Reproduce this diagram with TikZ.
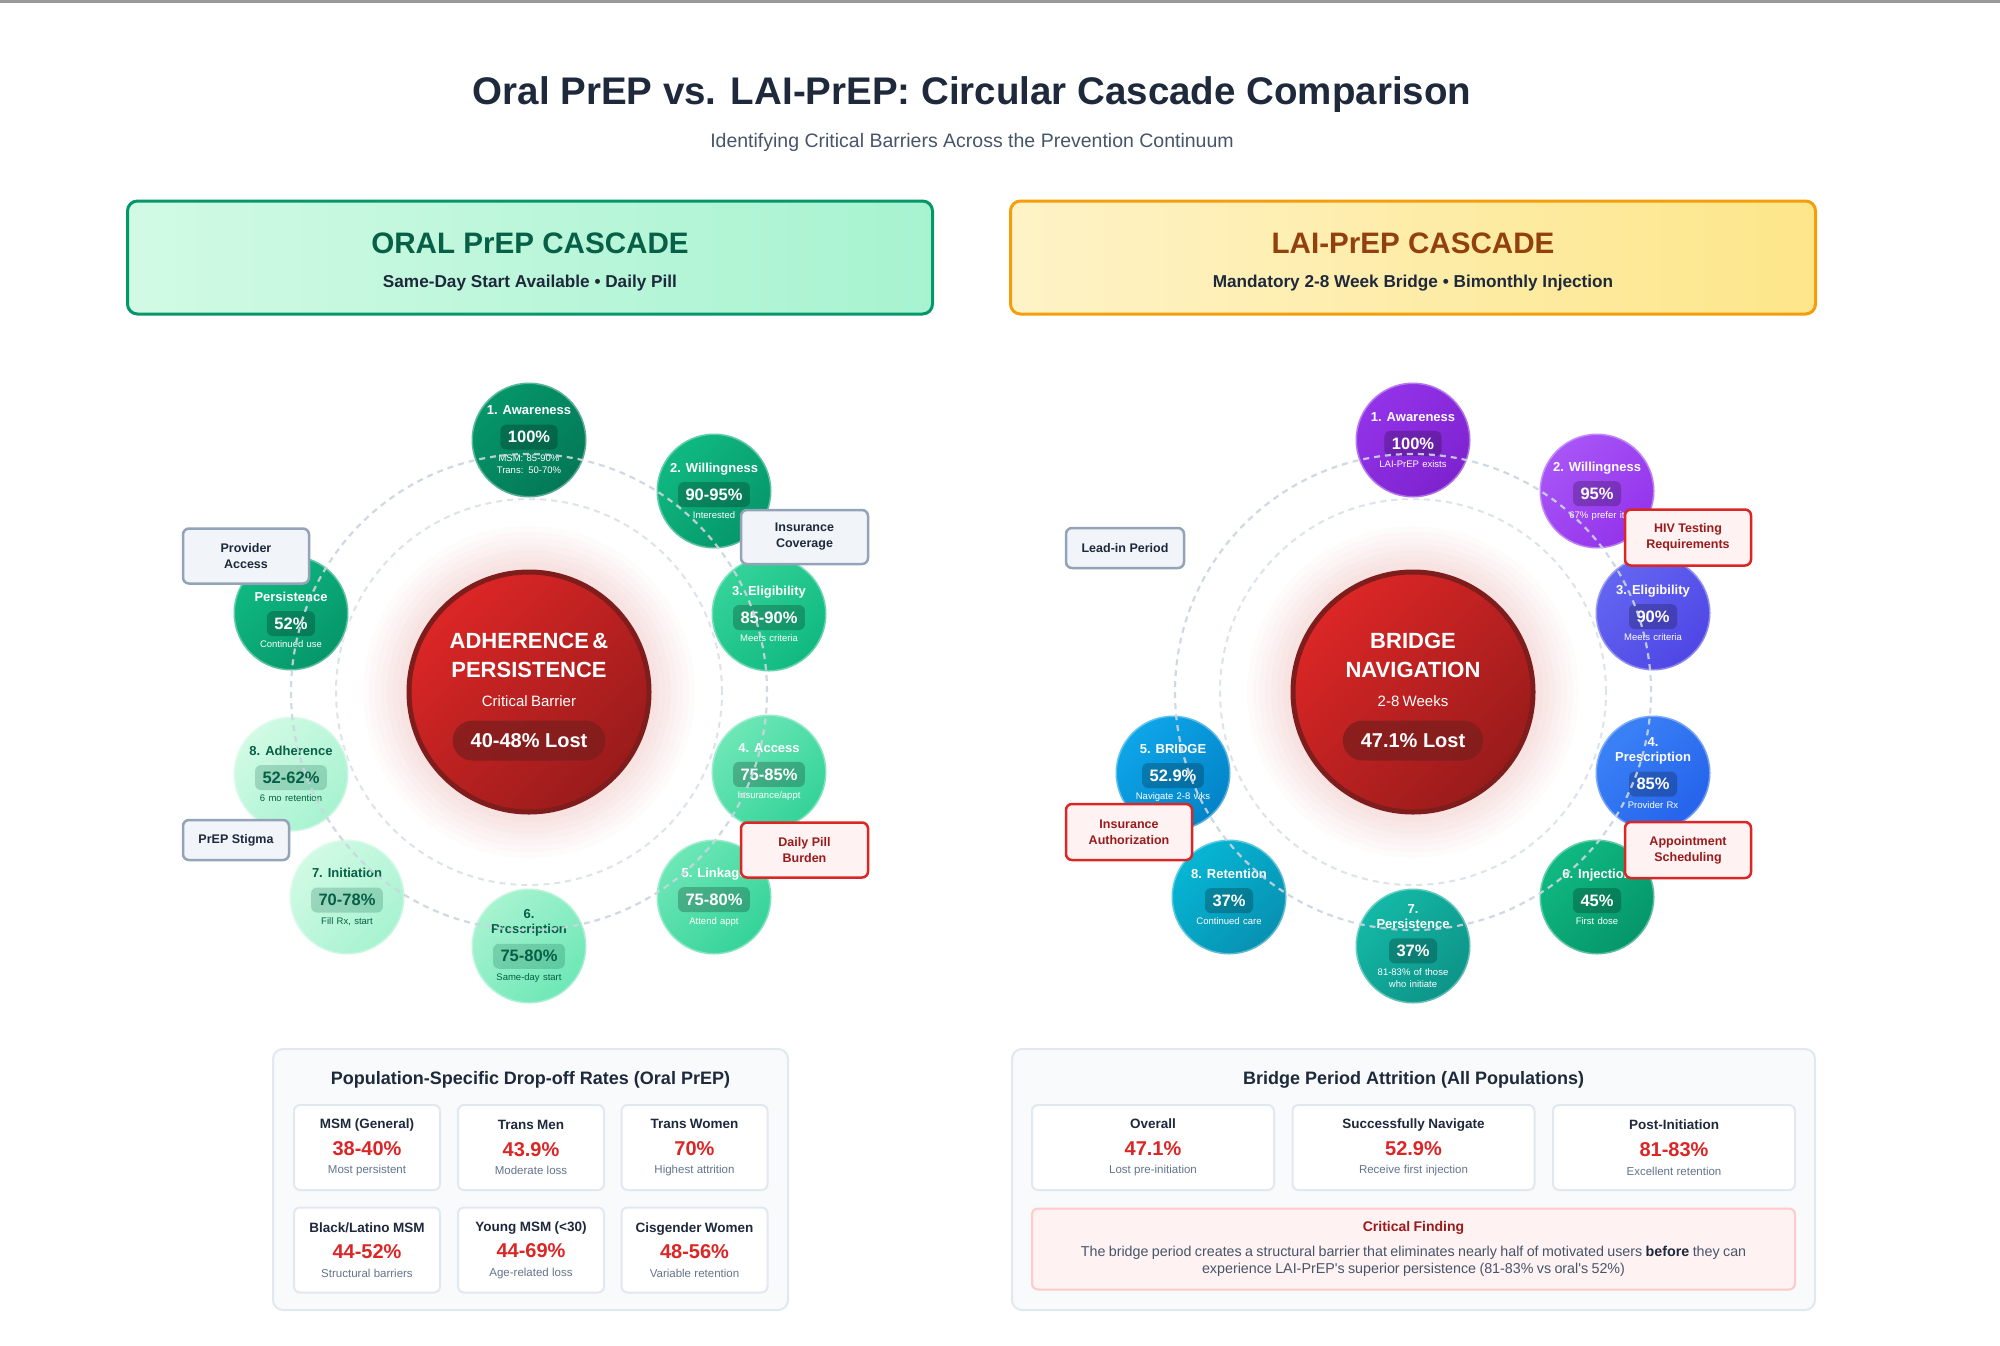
\documentclass[tikz,border=0pt]{standalone}
\usepackage{fontspec}
\setmainfont{Liberation Sans}
\usepackage{xcolor}
\usepackage{tikz}
\usetikzlibrary{positioning}
\definecolor{TitleInk}{HTML}{1E293B}
\definecolor{SubInk}{HTML}{475569}
\definecolor{MutedInk}{HTML}{64748B}
\definecolor{RingLine}{HTML}{CBD5E1}
\definecolor{RingSoft}{HTML}{DDE3EA}
\definecolor{CardLine}{HTML}{E2E8F0}
\definecolor{PanelFill}{HTML}{F8FAFC}
\definecolor{AlertRed}{HTML}{DC2626}
\definecolor{AlertDeep}{HTML}{991B1B}
\definecolor{AlertFill}{HTML}{FEF2F2}
\definecolor{AlertLine}{HTML}{FECACA}
\definecolor{NoteFill}{HTML}{F1F5F9}
\definecolor{NoteLine}{HTML}{94A3B8}
\definecolor{HubRim}{HTML}{7F1D1D}
\definecolor{HubRed}{HTML}{DC2626}
\definecolor{HubDeep}{HTML}{991B1B}
\definecolor{MintA}{HTML}{D1FAE5}
\definecolor{MintB}{HTML}{A7F3D0}
\definecolor{MintC}{HTML}{6EE7B7}
\definecolor{MintD}{HTML}{34D399}
\definecolor{MintE}{HTML}{10B981}
\definecolor{MintF}{HTML}{059669}
\definecolor{MintG}{HTML}{047857}
\definecolor{MintH}{HTML}{065F46}
\definecolor{AmberA}{HTML}{FEF3C7}
\definecolor{AmberB}{HTML}{FDE68A}
\definecolor{AmberLine}{HTML}{F59E0B}
\definecolor{AmberInk}{HTML}{92400E}
\definecolor{PurpleA}{HTML}{A855F7}
\definecolor{PurpleB}{HTML}{9333EA}
\definecolor{PurpleC}{HTML}{7E22CE}
\definecolor{IndigoA}{HTML}{6366F1}
\definecolor{IndigoB}{HTML}{4F46E5}
\definecolor{BlueA}{HTML}{3B82F6}
\definecolor{BlueB}{HTML}{2563EB}
\definecolor{SkyA}{HTML}{0EA5E9}
\definecolor{SkyB}{HTML}{0284C7}
\definecolor{CyanA}{HTML}{06B6D4}
\definecolor{CyanB}{HTML}{0891B2}
\definecolor{TealA}{HTML}{14B8A6}
\definecolor{TealB}{HTML}{0D9488}
\newcommand{\Px}[2]{\fontsize{#1}{#2}\selectfont}
\newcommand{\PctPill}[3]{%
  \tikz[baseline=(pct.base)]{\node[fill=#1,fill opacity=0.22,text opacity=1,text=#2,
    rounded corners=6pt,inner xsep=7.5pt,inner ysep=0pt,minimum height=25pt,
    font=\Px{16.5}{20}\bfseries] (pct) {#3};}%
}
\newcommand{\LossPill}[1]{%
  \tikz[baseline=(loss.base)]{\node[fill=HubRim,fill opacity=0.8,text opacity=1,text=white,
    rounded corners=20pt,inner xsep=18pt,inner ysep=0pt,minimum height=40pt,
    font=\Px{20}{24}\bfseries] (loss) {#1};}%
}
\newcommand{\StageText}[5]{%
  {\Px{13}{15.5}\bfseries #1\vphantom{g}\par}\nointerlineskip\vspace{7pt}%
  \PctPill{#2}{#3}{#4}\par\nointerlineskip\vspace{5pt}%
  {\Px{9.5}{12.5}\vphantom{A}#5\par}%
}
\newcommand{\HubText}[3]{%
  {\Px{22}{28.5}\bfseries #1\par}\nointerlineskip\vspace{18pt}%
  {\Px{15}{18}#2\par}\nointerlineskip\vspace{14pt}%
  \LossPill{#3}\par
}
\newcommand{\CardText}[3]{%
  {\Px{13.5}{16}\bfseries\color{TitleInk}#1\vphantom{g}\par}\nointerlineskip\vspace{10pt}%
  {\Px{20}{24}\bfseries\color{AlertRed}#2\vphantom{g}\par}\nointerlineskip\vspace{6pt}%
  {\Px{11.5}{14}\color{MutedInk}#3\par}%
}

\begin{document}
\begin{tikzpicture}[x=1pt,y=-1pt,
  banner/.style={rounded corners=10pt,line width=3pt,minimum width=805pt,minimum height=113pt},
  hub/.style={circle,minimum size=240pt,inner sep=0pt,draw=HubRim,line width=5pt,
              top color=HubRed,bottom color=HubDeep,shading angle=45},
  hubtext/.style={text width=210pt,align=center,inner sep=0pt,text=white},
  stage/.style={circle,minimum size=115pt,inner sep=0pt,draw=white,draw opacity=0.35,line width=3pt},
  tone/.style 2 args={top color=#1,bottom color=#2,shading angle=45},
  stagetext/.style={text width=104pt,align=center,inner sep=0pt,text=white},
  stagedark/.style={stagetext,text=MintH},
  ring/.style={draw=RingLine,draw opacity=0.9,line width=2.2pt,dash pattern=on 6pt off 5pt},
  softring/.style={draw=RingSoft,line width=2pt,dash pattern=on 6pt off 5pt},
  note/.style={draw=NoteLine,fill=NoteFill,line width=2.5pt,rounded corners=6pt,text=TitleInk,
               font=\Px{12.5}{16}\bfseries,align=center,inner sep=2pt},
  alert/.style={note,draw=AlertRed,fill=AlertFill,text=AlertDeep},
  panel/.style={draw=CardLine,fill=PanelFill,line width=2pt,rounded corners=10pt,minimum height=261pt},
  paneltitle/.style={font=\Px{18}{22}\bfseries,text=TitleInk},
  card/.style={draw=CardLine,fill=white,line width=2pt,rounded corners=6pt,minimum height=85pt,
               text width=136pt,align=center,inner xsep=5pt},
  widecard/.style={card,text width=232pt},
]
  \useasboundingbox (0,0) rectangle (2000,1345);
  \fill[white] (0,0) rectangle (2000,1345);
  \fill[black!40] (0,0) rectangle (2000,2.5);

  \node[font=\Px{38.5}{46}\bfseries,text=TitleInk] (title) at (972,95)
    {Oral PrEP vs. LAI-PrEP: Circular Cascade Comparison};
  \node[font=\Px{19.5}{23},text=SubInk] (subtitle) at (972,142)
    {Identifying Critical Barriers Across the Prevention Continuum};

  \node[banner,draw=MintF,left color=MintA,right color=MintB] (oralBanner) at (530,257.5) {};
  \node[font=\Px{29.6}{35}\bfseries,text=MintH] (oralHead) at (530,243.5) {ORAL PrEP CASCADE};
  \node[font=\Px{17.2}{21}\bfseries,text=TitleInk] (oralTag) at (530,283)
    {Same-Day Start Available • Daily Pill};
  \node[banner,draw=AmberLine,left color=AmberA,right color=AmberB] (laiBanner) at (1413,257.5) {};
  \node[font=\Px{29.6}{35}\bfseries,text=AmberInk] (laiHead) at (1413,243.5) {LAI-PrEP CASCADE};
  \node[font=\Px{17.2}{21}\bfseries,text=TitleInk] (laiTag) at (1413,283)
    {Mandatory 2-8 Week Bridge • Bimonthly Injection};

  % oral cascade
  \coordinate (oralCore) at (529,692);
  \foreach \r in {124,130,...,166}
    \fill[AlertRed,opacity=0.016] (oralCore) circle[radius=\r pt];
  \draw[softring] (oralCore) circle[radius=193pt];
  \node[hub] (oralHub) at (oralCore) {};
  \node[hubtext,yshift=-5pt] (oralHubText) at (oralHub)
    {\HubText{ADHERENCE \&\\PERSISTENCE}{Critical Barrier}{40-48\% Lost}};

  \node[stage,tone={MintF}{MintG}] (oral1) at (529,440) {};
  \node[stagetext] (oral1t) at (oral1)
    {\StageText{1. Awareness}{black}{white}{100\%}{MSM: 85-90\%\\Trans: 50-70\%}};
  \node[stage,tone={MintE}{MintF}] (oral2) at (714,491) {};
  \node[stagetext] (oral2t) at (oral2) {\StageText{2. Willingness}{black}{white}{90-95\%}{Interested}};
  \node[stage,tone={MintD}{MintE}] (oral3) at (769,614) {};
  \node[stagetext] (oral3t) at (oral3) {\StageText{3. Eligibility}{black}{white}{85-90\%}{Meets criteria}};
  \node[stage,tone={MintC}{MintD}] (oral4) at (769,772) {};
  \node[stagetext] (oral4t) at (oral4) {\StageText{4. Access}{black}{white}{75-85\%}{Insurance/appt}};
  \node[stage,tone={MintC}{MintD}] (oral5) at (714,897) {};
  \node[stagetext] (oral5t) at (oral5) {\StageText{5. Linkage}{black}{white}{75-80\%}{Attend appt}};
  \node[stage,tone={MintB}{MintC}] (oral6) at (529,946) {};
  \node[stagedark] (oral6t) at (oral6) {\StageText{6.\\Prescription}{MintH}{MintH}{75-80\%}{Same-day start}};
  \node[stage,tone={MintA}{MintB}] (oral7) at (347,897) {};
  \node[stagedark] (oral7t) at (oral7) {\StageText{7. Initiation}{MintH}{MintH}{70-78\%}{Fill Rx, start}};
  \node[stage,tone={MintA}{MintB}] (oral8) at (291,774) {};
  \node[stagedark] (oral8t) at (oral8) {\StageText{8. Adherence}{MintH}{MintH}{52-62\%}{6 mo retention}};
  \node[stage,tone={MintE}{MintF}] (oral9) at (291,613) {};
  \node[stagetext,yshift=-7pt] (oral9t) at (oral9) {\StageText{Persistence}{black}{white}{52\%}{Continued use}};
  \draw[ring] (oralCore) circle[radius=238pt];

  \node[note,minimum width=126pt,minimum height=55pt] (oralProvider) at (246,556) {Provider\\Access};
  \node[note,minimum width=127pt,minimum height=54pt] (oralInsurance) at (804.5,537) {Insurance\\Coverage};
  \node[note,minimum width=106pt,minimum height=40pt] (oralStigma) at (236,840) {PrEP Stigma};
  \node[alert,minimum width=127pt,minimum height=55pt] (oralPill) at (804.5,850) {Daily Pill\\Burden};

  % LAI cascade
  \coordinate (laiCore) at (1413,692);
  \foreach \r in {124,130,...,166}
    \fill[AlertRed,opacity=0.016] (laiCore) circle[radius=\r pt];
  \draw[softring] (laiCore) circle[radius=193pt];
  \node[hub] (laiHub) at (laiCore) {};
  \node[hubtext,yshift=-5pt] (laiHubText) at (laiHub)
    {\HubText{BRIDGE\\NAVIGATION}{2-8 Weeks}{47.1\% Lost}};

  \node[stage,tone={PurpleB}{PurpleC}] (lai1) at (1413,440) {};
  \node[stagetext] (lai1t) at (lai1) {\StageText{1. Awareness}{black}{white}{100\%}{LAI-PrEP exists}};
  \node[stage,tone={PurpleA}{PurpleB}] (lai2) at (1597,491) {};
  \node[stagetext] (lai2t) at (lai2) {\StageText{2. Willingness}{black}{white}{95\%}{67\% prefer it}};
  \node[stage,tone={IndigoA}{IndigoB}] (lai3) at (1653,613) {};
  \node[stagetext] (lai3t) at (lai3) {\StageText{3. Eligibility}{black}{white}{90\%}{Meets criteria}};
  \node[stage,tone={BlueA}{BlueB}] (lai4) at (1653,773) {};
  \node[stagetext] (lai4t) at (lai4) {\StageText{4.\\Prescription}{black}{white}{85\%}{Provider Rx}};
  \node[stage,tone={SkyA}{SkyB}] (lai5) at (1173,773) {};
  \node[stagetext] (lai5t) at (lai5) {\StageText{5. BRIDGE}{black}{white}{52.9\%}{Navigate 2-8 wks}};
  \node[stage,tone={MintE}{MintF}] (lai6) at (1597,897) {};
  \node[stagetext] (lai6t) at (lai6) {\StageText{6. Injection}{black}{white}{45\%}{First dose}};
  \node[stage,tone={TealA}{TealB}] (lai7) at (1413,946) {};
  \node[stagetext] (lai7t) at (lai7)
    {\StageText{7.\\Persistence}{black}{white}{37\%}{81-83\% of those\\who initiate}};
  \node[stage,tone={CyanA}{CyanB}] (lai8) at (1229,897) {};
  \node[stagetext] (lai8t) at (lai8) {\StageText{8. Retention}{black}{white}{37\%}{Continued care}};
  \draw[ring] (laiCore) circle[radius=238pt];

  \node[note,minimum width=118pt,minimum height=40pt] (laiLeadIn) at (1125,548) {Lead-in Period};
  \node[alert,minimum width=126pt,minimum height=56pt] (laiTesting) at (1688,537.5) {HIV Testing\\Requirements};
  \node[alert,minimum width=126pt,minimum height=56pt] (laiAuth) at (1129,832) {Insurance\\Authorization};
  \node[alert,minimum width=126pt,minimum height=56pt] (laiSchedule) at (1688,850) {Appointment\\Scheduling};

  % population panel
  \node[panel,minimum width=515pt] (oralPanel) at (530.5,1179.5) {};
  \node[paneltitle] (oralPanelTitle) at (530.5,1080) {Population-Specific Drop-off Rates (Oral PrEP)};
  \node[card] (msmGeneral) at (367,1147.5) {\CardText{MSM (General)}{38-40\%}{Most persistent}};
  \node[card] (transMen) at (531,1147.5) {\CardText{Trans Men}{43.9\%}{Moderate loss}};
  \node[card] (transWomen) at (694.5,1147.5) {\CardText{Trans Women}{70\%}{Highest attrition}};
  \node[card] (blackLatino) at (367,1250) {\CardText{Black/Latino MSM}{44-52\%}{Structural barriers}};
  \node[card] (youngMsm) at (531,1250) {\CardText{Young MSM (<30)}{44-69\%}{Age-related loss}};
  \node[card] (cisWomen) at (694.5,1250) {\CardText{Cisgender Women}{48-56\%}{Variable retention}};

  % bridge panel
  \node[panel,minimum width=803pt] (laiPanel) at (1413.5,1179.5) {};
  \node[paneltitle] (laiPanelTitle) at (1413.5,1080) {Bridge Period Attrition (All Populations)};
  \node[widecard] (overall) at (1153,1147.5) {\CardText{Overall}{47.1\%}{Lost pre-initiation}};
  \node[widecard] (navigate) at (1413.5,1147.5) {\CardText{Successfully Navigate}{52.9\%}{Receive first injection}};
  \node[widecard] (postInit) at (1674,1147.5) {\CardText{Post-Initiation}{81-83\%}{Excellent retention}};
  \node[draw=AlertLine,fill=AlertFill,line width=2pt,rounded corners=6pt,minimum width=763pt,
        minimum height=81pt,text width=740pt,align=center] (finding) at (1413.5,1249)
    {{\Px{14}{17}\bfseries\color{AlertDeep}Critical Finding\par}\nointerlineskip\vspace{11pt}%
     {\Px{14.3}{17}\color{SubInk}The bridge period creates a structural barrier that eliminates nearly
      half of motivated users \textbf{\color{TitleInk}before} they can\\experience
      LAI-PrEP\textquotesingle s superior persistence (81-83\% vs oral\textquotesingle s 52\%)\par}};
\end{tikzpicture}
\end{document}
